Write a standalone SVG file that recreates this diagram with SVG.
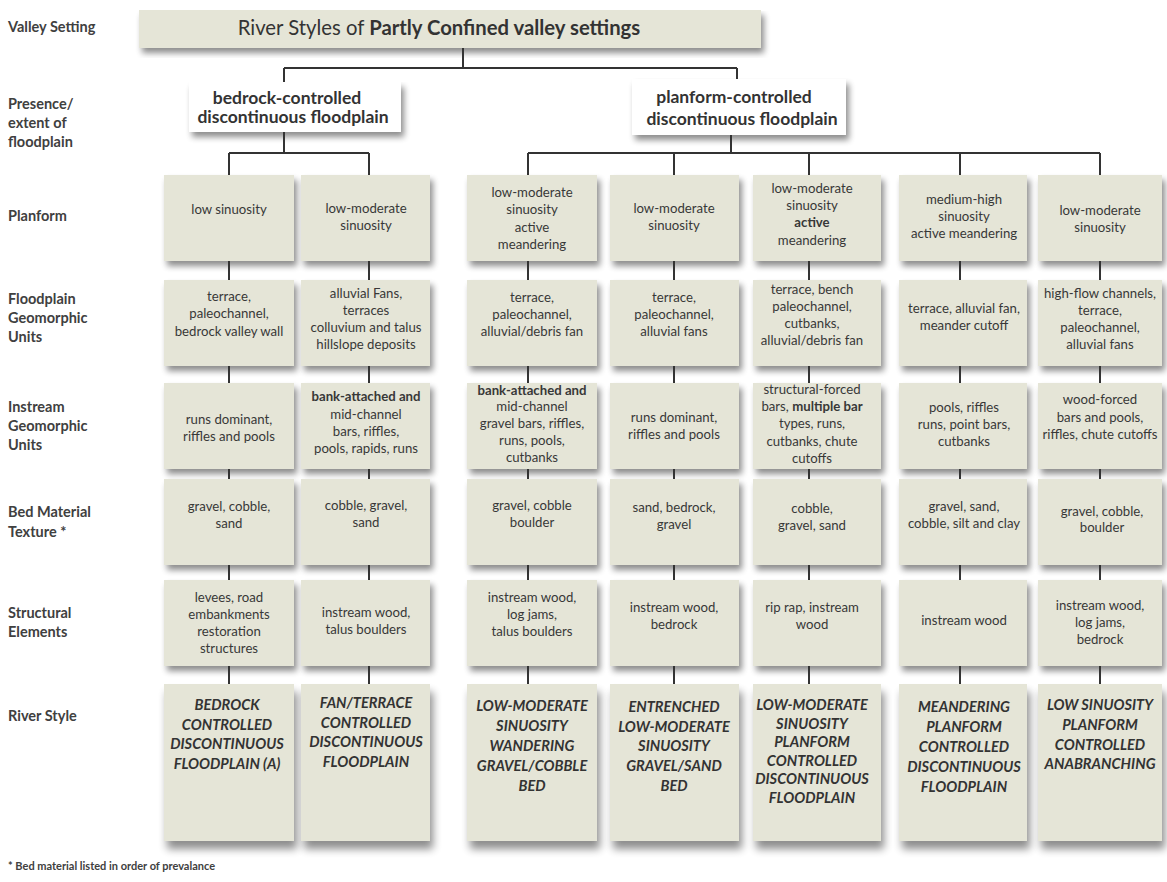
<svg xmlns="http://www.w3.org/2000/svg" width="1167" height="882" viewBox="0 0 1167 882">
<defs>
<filter id="sh" x="-10%" y="-10%" width="125%" height="135%">
<feGaussianBlur in="SourceAlpha" stdDeviation="3"/>
<feOffset dx="3" dy="5"/>
<feComponentTransfer><feFuncA type="linear" slope="0.45"/></feComponentTransfer>
<feMerge><feMergeNode/><feMergeNode in="SourceGraphic"/></feMerge>
</filter>
<filter id="sh2" x="-10%" y="-10%" width="125%" height="125%">
<feGaussianBlur in="SourceAlpha" stdDeviation="4"/>
<feOffset dx="3" dy="8"/>
<feComponentTransfer><feFuncA type="linear" slope="0.45"/></feComponentTransfer>
<feMerge><feMergeNode/><feMergeNode in="SourceGraphic"/></feMerge>
</filter>
</defs>
<style>
.box{fill:#e5e5d7;filter:url(#sh)}
.rsb{fill:#e5e5d7;filter:url(#sh2)}
.wb{fill:#ffffff;filter:url(#sh)}
text{font-family:Lato,"Open Sans","Liberation Sans",sans-serif;fill:#383838}
.t{font-size:13.2px;text-anchor:middle}
.b{font-weight:bold}
.rs{font-size:14.6px;font-weight:bold;font-style:italic;text-anchor:middle;fill:#333}
.lb{font-size:14.5px;font-weight:bold;fill:#404040}
.l2{font-size:17.5px;font-weight:bold;text-anchor:middle;fill:#333}
.ti{font-size:20.3px;text-anchor:middle;fill:#333}
.conn path{stroke:#333;stroke-width:2;fill:none}
</style>
<rect width="1167" height="882" fill="#fff"/>

<g id="labels">
<text class="lb" x="8" y="32">Valley Setting</text>
<text class="lb" x="8" y="109">Presence/</text>
<text class="lb" x="8" y="128">extent of</text>
<text class="lb" x="8" y="147">floodplain</text>
<text class="lb" x="8" y="221">Planform</text>
<text class="lb" x="8" y="304">Floodplain</text>
<text class="lb" x="8" y="323">Geomorphic</text>
<text class="lb" x="8" y="342">Units</text>
<text class="lb" x="8" y="412">Instream</text>
<text class="lb" x="8" y="431">Geomorphic</text>
<text class="lb" x="8" y="450">Units</text>
<text class="lb" x="8" y="517">Bed Material</text>
<text class="lb" x="8" y="537">Texture *</text>
<text class="lb" x="8" y="618">Structural</text>
<text class="lb" x="8" y="637">Elements</text>
<text class="lb" x="8" y="721">River Style</text>
<text class="lb" x="8" y="870" style="font-size:11px">* Bed material listed in order of prevalance</text>
</g>

<g id="title">
<rect class="box" x="139" y="10" width="622" height="38"/>
<text class="ti" x="439" y="35">River Styles of <tspan class="b">Partly Confined valley settings</tspan></text>
</g>

<g id="bedrock-controlled">
<rect class="wb" x="189" y="82" width="212" height="50"/>
<text class="l2"><tspan x="287" y="103.5">bedrock-controlled</tspan><tspan x="293" y="123">discontinuous floodplain</tspan></text>
</g>
<g id="planform-controlled">
<rect class="wb" x="632" y="79" width="214" height="56"/>
<text class="l2"><tspan x="734" y="102.5">planform-controlled</tspan><tspan x="742" y="124.5">discontinuous floodplain</tspan></text>
</g>

<!-- Column 1 -->
<g id="c1-planform"><rect class="box" x="164" y="175" width="130" height="86"/>
<text class="t"><tspan x="229" y="213.5">low sinuosity</tspan></text></g>
<g id="c1-floodplain"><rect class="box" x="164" y="280" width="130" height="86"/>
<text class="t"><tspan x="229" y="300.5">terrace,</tspan><tspan x="229" y="317.5">paleochannel,</tspan><tspan x="229" y="335.5">bedrock valley wall</tspan></text></g>
<g id="c1-instream"><rect class="box" x="164" y="383" width="130" height="86"/>
<text class="t"><tspan x="229" y="423.5">runs dominant,</tspan><tspan x="229" y="440.5">riffles and pools</tspan></text></g>
<g id="c1-bed"><rect class="box" x="164" y="479" width="130" height="86"/>
<text class="t"><tspan x="229" y="510.5">gravel, cobble,</tspan><tspan x="229" y="527.5">sand</tspan></text></g>
<g id="c1-structural"><rect class="box" x="164" y="580" width="130" height="86"/>
<text class="t"><tspan x="229" y="601.5">levees, road</tspan><tspan x="229" y="618.5">embankments</tspan><tspan x="229" y="635.5">restoration</tspan><tspan x="229" y="652.5">structures</tspan></text></g>
<g id="c1-style"><rect class="rsb" x="164" y="684" width="130" height="157"/>
<text class="rs"><tspan x="227" y="710">BEDROCK</tspan><tspan x="227" y="729.5">CONTROLLED</tspan><tspan x="227" y="749">DISCONTINUOUS</tspan><tspan x="227" y="768.5">FLOODPLAIN (A)</tspan></text></g>

<!-- Column 2 -->
<g id="c2-planform"><rect class="box" x="301" y="175" width="129" height="86"/>
<text class="t"><tspan x="366" y="212.5">low-moderate</tspan><tspan x="366" y="229.5">sinuosity</tspan></text></g>
<g id="c2-floodplain"><rect class="box" x="301" y="280" width="129" height="86"/>
<text class="t"><tspan x="366" y="297.5">alluvial Fans,</tspan><tspan x="366" y="314.5">terraces</tspan><tspan x="366" y="331.5">colluvium and talus</tspan><tspan x="366" y="348.5">hillslope deposits</tspan></text></g>
<g id="c2-instream"><rect class="box" x="301" y="383" width="129" height="86"/>
<text class="t"><tspan x="366" y="400.5" class="b">bank-attached and</tspan><tspan x="366" y="418.5">mid-channel</tspan><tspan x="366" y="435.5">bars, riffles,</tspan><tspan x="366" y="452.5">pools, rapids, runs</tspan></text></g>
<g id="c2-bed"><rect class="box" x="301" y="479" width="129" height="86"/>
<text class="t"><tspan x="366" y="509.5">cobble, gravel,</tspan><tspan x="366" y="526.5">sand</tspan></text></g>
<g id="c2-structural"><rect class="box" x="301" y="580" width="129" height="86"/>
<text class="t"><tspan x="366" y="616.5">instream wood,</tspan><tspan x="366" y="633.5">talus boulders</tspan></text></g>
<g id="c2-style"><rect class="rsb" x="301" y="684" width="129" height="157"/>
<text class="rs"><tspan x="366" y="708">FAN/TERRACE</tspan><tspan x="366" y="727.5">CONTROLLED</tspan><tspan x="366" y="747">DISCONTINUOUS</tspan><tspan x="366" y="766.5">FLOODPLAIN</tspan></text></g>

<!-- Column 3 -->
<g id="c3-planform"><rect class="box" x="467" y="175" width="130" height="86"/>
<text class="t"><tspan x="532" y="196.5">low-moderate</tspan><tspan x="532" y="213.5">sinuosity</tspan><tspan x="532" y="231.5">active</tspan><tspan x="532" y="248.5">meandering</tspan></text></g>
<g id="c3-floodplain"><rect class="box" x="467" y="280" width="130" height="86"/>
<text class="t"><tspan x="532" y="301.5">terrace,</tspan><tspan x="532" y="318.5">paleochannel,</tspan><tspan x="532" y="335.5">alluvial/debris fan</tspan></text></g>
<g id="c3-instream"><rect class="box" x="467" y="383" width="130" height="86"/>
<text class="t"><tspan x="532" y="394.5" class="b">bank-attached and</tspan><tspan x="532" y="410.5">mid-channel</tspan><tspan x="532" y="427.5">gravel bars, riffles,</tspan><tspan x="532" y="444.5">runs, pools,</tspan><tspan x="532" y="461.5">cutbanks</tspan></text></g>
<g id="c3-bed"><rect class="box" x="467" y="479" width="130" height="86"/>
<text class="t"><tspan x="532" y="509.5">gravel, cobble</tspan><tspan x="532" y="526.5">boulder</tspan></text></g>
<g id="c3-structural"><rect class="box" x="467" y="580" width="130" height="86"/>
<text class="t"><tspan x="532" y="601.5">instream wood,</tspan><tspan x="532" y="618.5">log jams,</tspan><tspan x="532" y="635.5">talus boulders</tspan></text></g>
<g id="c3-style"><rect class="rsb" x="467" y="684" width="130" height="157"/>
<text class="rs"><tspan x="532" y="711">LOW-MODERATE</tspan><tspan x="532" y="731">SINUOSITY</tspan><tspan x="532" y="751">WANDERING</tspan><tspan x="532" y="771">GRAVEL/COBBLE</tspan><tspan x="532" y="791">BED</tspan></text></g>

<!-- Column 4 -->
<g id="c4-planform"><rect class="box" x="610" y="175" width="129" height="86"/>
<text class="t"><tspan x="674" y="212.5">low-moderate</tspan><tspan x="674" y="229.5">sinuosity</tspan></text></g>
<g id="c4-floodplain"><rect class="box" x="610" y="280" width="129" height="86"/>
<text class="t"><tspan x="674" y="301.5">terrace,</tspan><tspan x="674" y="318.5">paleochannel,</tspan><tspan x="674" y="335.5">alluvial fans</tspan></text></g>
<g id="c4-instream"><rect class="box" x="610" y="383" width="129" height="86"/>
<text class="t"><tspan x="674" y="421.5">runs dominant,</tspan><tspan x="674" y="438.5">riffles and pools</tspan></text></g>
<g id="c4-bed"><rect class="box" x="610" y="479" width="129" height="86"/>
<text class="t"><tspan x="674" y="511.5">sand, bedrock,</tspan><tspan x="674" y="528.5">gravel</tspan></text></g>
<g id="c4-structural"><rect class="box" x="610" y="580" width="129" height="86"/>
<text class="t"><tspan x="674" y="611.5">instream wood,</tspan><tspan x="674" y="628.5">bedrock</tspan></text></g>
<g id="c4-style"><rect class="rsb" x="610" y="684" width="129" height="157"/>
<text class="rs"><tspan x="674" y="712">ENTRENCHED</tspan><tspan x="674" y="732">LOW-MODERATE</tspan><tspan x="674" y="751">SINUOSITY</tspan><tspan x="674" y="771">GRAVEL/SAND</tspan><tspan x="674" y="791">BED</tspan></text></g>

<!-- Column 5 -->
<g id="c5-planform"><rect class="box" x="753" y="175" width="128" height="86"/>
<text class="t"><tspan x="812" y="192.5">low-moderate</tspan><tspan x="812" y="209.5">sinuosity</tspan><tspan x="812" y="226.5" class="b">active</tspan><tspan x="812" y="244.5">meandering</tspan></text></g>
<g id="c5-floodplain"><rect class="box" x="753" y="280" width="128" height="86"/>
<text class="t"><tspan x="812" y="293.5">terrace, bench</tspan><tspan x="812" y="310.5">paleochannel,</tspan><tspan x="812" y="327.5">cutbanks,</tspan><tspan x="812" y="344.5">alluvial/debris fan</tspan></text></g>
<g id="c5-instream"><rect class="box" x="753" y="383" width="128" height="86"/>
<text class="t"><tspan x="812" y="393.5">structural-forced</tspan><tspan x="812" y="410.5">bars, <tspan class="b">multiple bar</tspan></tspan><tspan x="812" y="427.5">types, runs,</tspan><tspan x="812" y="445.5">cutbanks, chute</tspan><tspan x="812" y="462.5">cutoffs</tspan></text></g>
<g id="c5-bed"><rect class="box" x="753" y="479" width="128" height="86"/>
<text class="t"><tspan x="812" y="512.5">cobble,</tspan><tspan x="812" y="529.5">gravel, sand</tspan></text></g>
<g id="c5-structural"><rect class="box" x="753" y="580" width="128" height="86"/>
<text class="t"><tspan x="812" y="611.5">rip rap, instream</tspan><tspan x="812" y="628.5">wood</tspan></text></g>
<g id="c5-style"><rect class="rsb" x="753" y="684" width="128" height="157"/>
<text class="rs"><tspan x="812" y="710">LOW-MODERATE</tspan><tspan x="812" y="728.5">SINUOSITY</tspan><tspan x="812" y="747">PLANFORM</tspan><tspan x="812" y="765.5">CONTROLLED</tspan><tspan x="812" y="784">DISCONTINUOUS</tspan><tspan x="812" y="802.5">FLOODPLAIN</tspan></text></g>

<!-- Column 6 -->
<g id="c6-planform"><rect class="box" x="899" y="175" width="128" height="86"/>
<text class="t"><tspan x="964" y="203.5">medium-high</tspan><tspan x="964" y="220.5">sinuosity</tspan><tspan x="964" y="237.5">active meandering</tspan></text></g>
<g id="c6-floodplain"><rect class="box" x="899" y="280" width="128" height="86"/>
<text class="t"><tspan x="964" y="312.5">terrace, alluvial fan,</tspan><tspan x="964" y="329.5">meander cutoff</tspan></text></g>
<g id="c6-instream"><rect class="box" x="899" y="383" width="128" height="86"/>
<text class="t"><tspan x="964" y="411.5">pools, riffles</tspan><tspan x="964" y="428.5">runs, point bars,</tspan><tspan x="964" y="445.5">cutbanks</tspan></text></g>
<g id="c6-bed"><rect class="box" x="899" y="479" width="128" height="86"/>
<text class="t"><tspan x="964" y="510.5">gravel, sand,</tspan><tspan x="964" y="527.5">cobble, silt and clay</tspan></text></g>
<g id="c6-structural"><rect class="box" x="899" y="580" width="128" height="86"/>
<text class="t"><tspan x="964" y="624.5">instream wood</tspan></text></g>
<g id="c6-style"><rect class="rsb" x="899" y="684" width="128" height="157"/>
<text class="rs"><tspan x="964" y="712">MEANDERING</tspan><tspan x="964" y="732">PLANFORM</tspan><tspan x="964" y="752">CONTROLLED</tspan><tspan x="964" y="772">DISCONTINUOUS</tspan><tspan x="964" y="792">FLOODPLAIN</tspan></text></g>

<!-- Column 7 -->
<g id="c7-planform"><rect class="box" x="1038" y="175" width="124" height="86"/>
<text class="t"><tspan x="1100" y="214.5">low-moderate</tspan><tspan x="1100" y="231.5">sinuosity</tspan></text></g>
<g id="c7-floodplain"><rect class="box" x="1038" y="280" width="124" height="86"/>
<text class="t"><tspan x="1100" y="297.5">high-flow channels,</tspan><tspan x="1100" y="314.5">terrace,</tspan><tspan x="1100" y="331.5">paleochannel,</tspan><tspan x="1100" y="348.5">alluvial fans</tspan></text></g>
<g id="c7-instream"><rect class="box" x="1038" y="383" width="124" height="86"/>
<text class="t"><tspan x="1100" y="403.5">wood-forced</tspan><tspan x="1100" y="421.5">bars and pools,</tspan><tspan x="1100" y="438.5">riffles, chute cutoffs</tspan></text></g>
<g id="c7-bed"><rect class="box" x="1038" y="479" width="124" height="86"/>
<text class="t"><tspan x="1102" y="515.5">gravel, cobble,</tspan><tspan x="1102" y="531.5">boulder</tspan></text></g>
<g id="c7-structural"><rect class="box" x="1038" y="580" width="124" height="86"/>
<text class="t"><tspan x="1100" y="609.5">instream wood,</tspan><tspan x="1100" y="626.5">log jams,</tspan><tspan x="1100" y="643.5">bedrock</tspan></text></g>
<g id="c7-style"><rect class="rsb" x="1038" y="684" width="124" height="157"/>
<text class="rs"><tspan x="1100" y="710">LOW SINUOSITY</tspan><tspan x="1100" y="730">PLANFORM</tspan><tspan x="1100" y="750">CONTROLLED</tspan><tspan x="1100" y="769">ANABRANCHING</tspan></text></g>

<g class="conn" id="connectors">
<path d="M463 48V68M284 68H737M284 68V82M737 68V79"/>
<path d="M284 132V153M229 153H369M229 153V175M369 153V175"/>
<path d="M731 135V153M528 153H1100M528 153V175M674 153V175M809 153V175M960 153V175M1100 153V175"/>
<path d="M229 261V280M229 366V383M229 469V479M229 565V580M229 666V684"/>
<path d="M369 261V280M369 366V383M369 469V479M369 565V580M369 666V684"/>
<path d="M528 261V280M528 366V383M528 469V479M528 565V580M528 666V684"/>
<path d="M674 261V280M674 366V383M674 469V479M674 565V580M674 666V684"/>
<path d="M809 261V280M809 366V383M809 469V479M809 565V580M809 666V684"/>
<path d="M960 261V280M960 366V383M960 469V479M960 565V580M960 666V684"/>
<path d="M1100 261V280M1100 366V383M1100 469V479M1100 565V580M1100 666V684"/>
</g>
</svg>
